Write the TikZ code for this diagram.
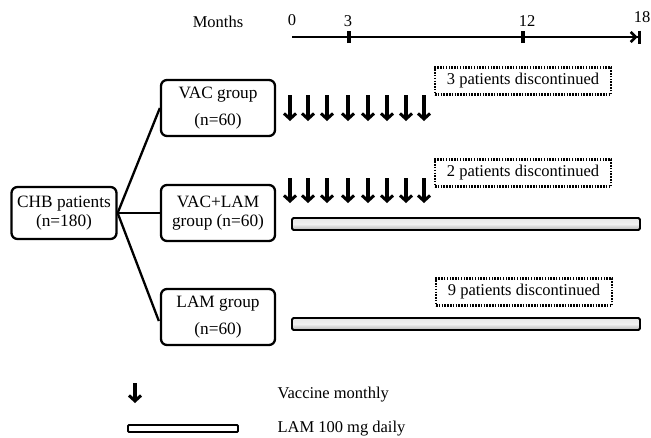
\documentclass[tikz,border=0pt]{standalone}
\usepackage{fontspec}
\setmainfont{Liberation Serif}
\usetikzlibrary{arrows.meta,shadings}
\begin{document}
\begin{tikzpicture}[x=1pt,y=-1pt,
  every node/.style={font=\fontsize{16.5}{19}\selectfont},
  groupbox/.style={draw,line width=2.3pt,rounded corners=6pt,minimum width=114pt,minimum height=56pt,inner sep=0pt,align=center,font=\fontsize{17.3}{19.5}\selectfont},
  dropbox/.style={draw,line width=2.3pt,dash pattern=on 1.5pt off 1.3pt,minimum width=176pt,minimum height=27pt,inner sep=0pt},
  link/.style={line width=2.3pt},
  vacc/.style={line width=3.2pt,-{Straight Barb[length=5.5pt,width=12pt,line width=3pt]}},
  lambar/.style={draw,line width=1.8pt,rounded corners=1.5pt,top color=gray!20,bottom color=gray!60,middle color=gray!12},
  tick/.style={line width=3.5pt}
]
\useasboundingbox (0,0) rectangle (651,437);

% time axis
\node (months) at (218,22) {Months};
\coordinate (t0) at (292,37);
\coordinate (t3) at (349,37);
\coordinate (t12) at (523,37);
\coordinate (t18) at (641,37);
\draw[line width=2.3pt,-{Straight Barb[length=5pt,width=10pt,line width=2.5pt]Bar[width=13pt,line width=3.5pt]}] (t0) -- (t18);
\draw[tick] ([yshift=-6pt]t3) -- ([yshift=6pt]t3);
\draw[tick] ([yshift=-6pt]t12) -- ([yshift=6pt]t12);
\node (l0) at (292,20) {0};
\node (l3) at (348,21) {3};
\node (l12) at (527,21) {12};
\node (l18) at (642,17) {18};

% study arms
\node[groupbox,minimum width=105pt,minimum height=52pt] (chb) at (64,213) {CHB patients\\(n=180)};
\node[groupbox] (vac) at (218,108) {VAC group\\[7pt](n=60)};
\node[groupbox] (vaclam) at (218,213) {VAC+LAM\\group (n=60)};
\node[groupbox] (lam) at (218,317) {LAM group\\[7pt](n=60)};

\draw[link] (chb.east) -- (vac.west);
\draw[link] (chb.east) -- (vaclam.west);
\draw[link] (chb.east) -- ([xshift=-1pt,yshift=-4pt]lam.west);

% monthly vaccine doses
\foreach \x in {290,308,327,348,368,387,406,424} {
  \draw[vacc] (\x,95) -- (\x,121);
  \draw[vacc] (\x,178) -- (\x,203);
}

% lamivudine treatment bars
\path[lambar] (292,218) rectangle (640,230);
\path[lambar] (292,318) rectangle (640,330);

% withdrawals
\node[dropbox] (d1) at (523,81) {3 patients discontinued};
\node[dropbox] (d2) at (523,173) {2 patients discontinued};
\node[dropbox] (d3) at (524,292) {9 patients discontinued};

% legend
\draw[vacc] (135,383) -- (135,403);
\node[anchor=west] (legvac) at (274,395) {Vaccine monthly};
\draw[line width=1.8pt,rounded corners=1pt,fill=white] (128,425) rectangle (238,432);
\node[anchor=west] (leglam) at (274,429) {LAM 100 mg daily};
\end{tikzpicture}
\end{document}
